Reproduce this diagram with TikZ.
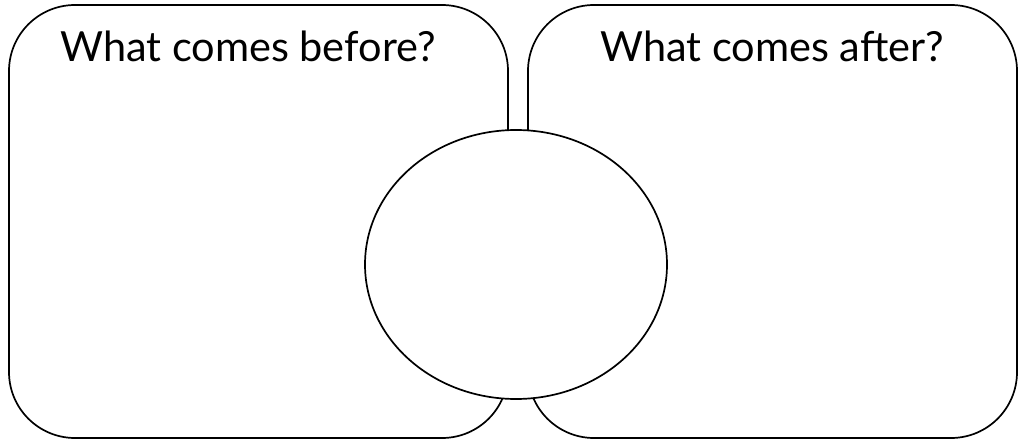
\documentclass[tikz,border=0pt]{standalone}
\usepackage{fontspec}
\setmainfont{Lato}
\usetikzlibrary{shapes.geometric}
\begin{document}
\begin{tikzpicture}[x=1pt,y=1pt,
  panel/.style={draw=black, line width=1.7pt, rounded corners=66pt, inner sep=0pt},
  hub/.style={draw=black, fill=white, line width=1.7pt, ellipse, inner sep=0pt},
  title/.style={anchor=base, inner sep=0pt, font=\fontsize{41.5}{48}\selectfont}]
\useasboundingbox (0,0) rectangle (1019,440);
\node[panel, minimum width=499pt, minimum height=433pt] (left) at (258.5,218.5) {};
\node[panel, minimum width=489pt, minimum height=433pt] (right) at (772.5,218.5) {};
\node[hub, minimum width=302pt, minimum height=269pt] (center) at (516,175.5) {};
\node[title] (ltitle) at (248,378) {What comes before?};
\node[title] (rtitle) at (772,378) {What comes after?};
\end{tikzpicture}
\end{document}
